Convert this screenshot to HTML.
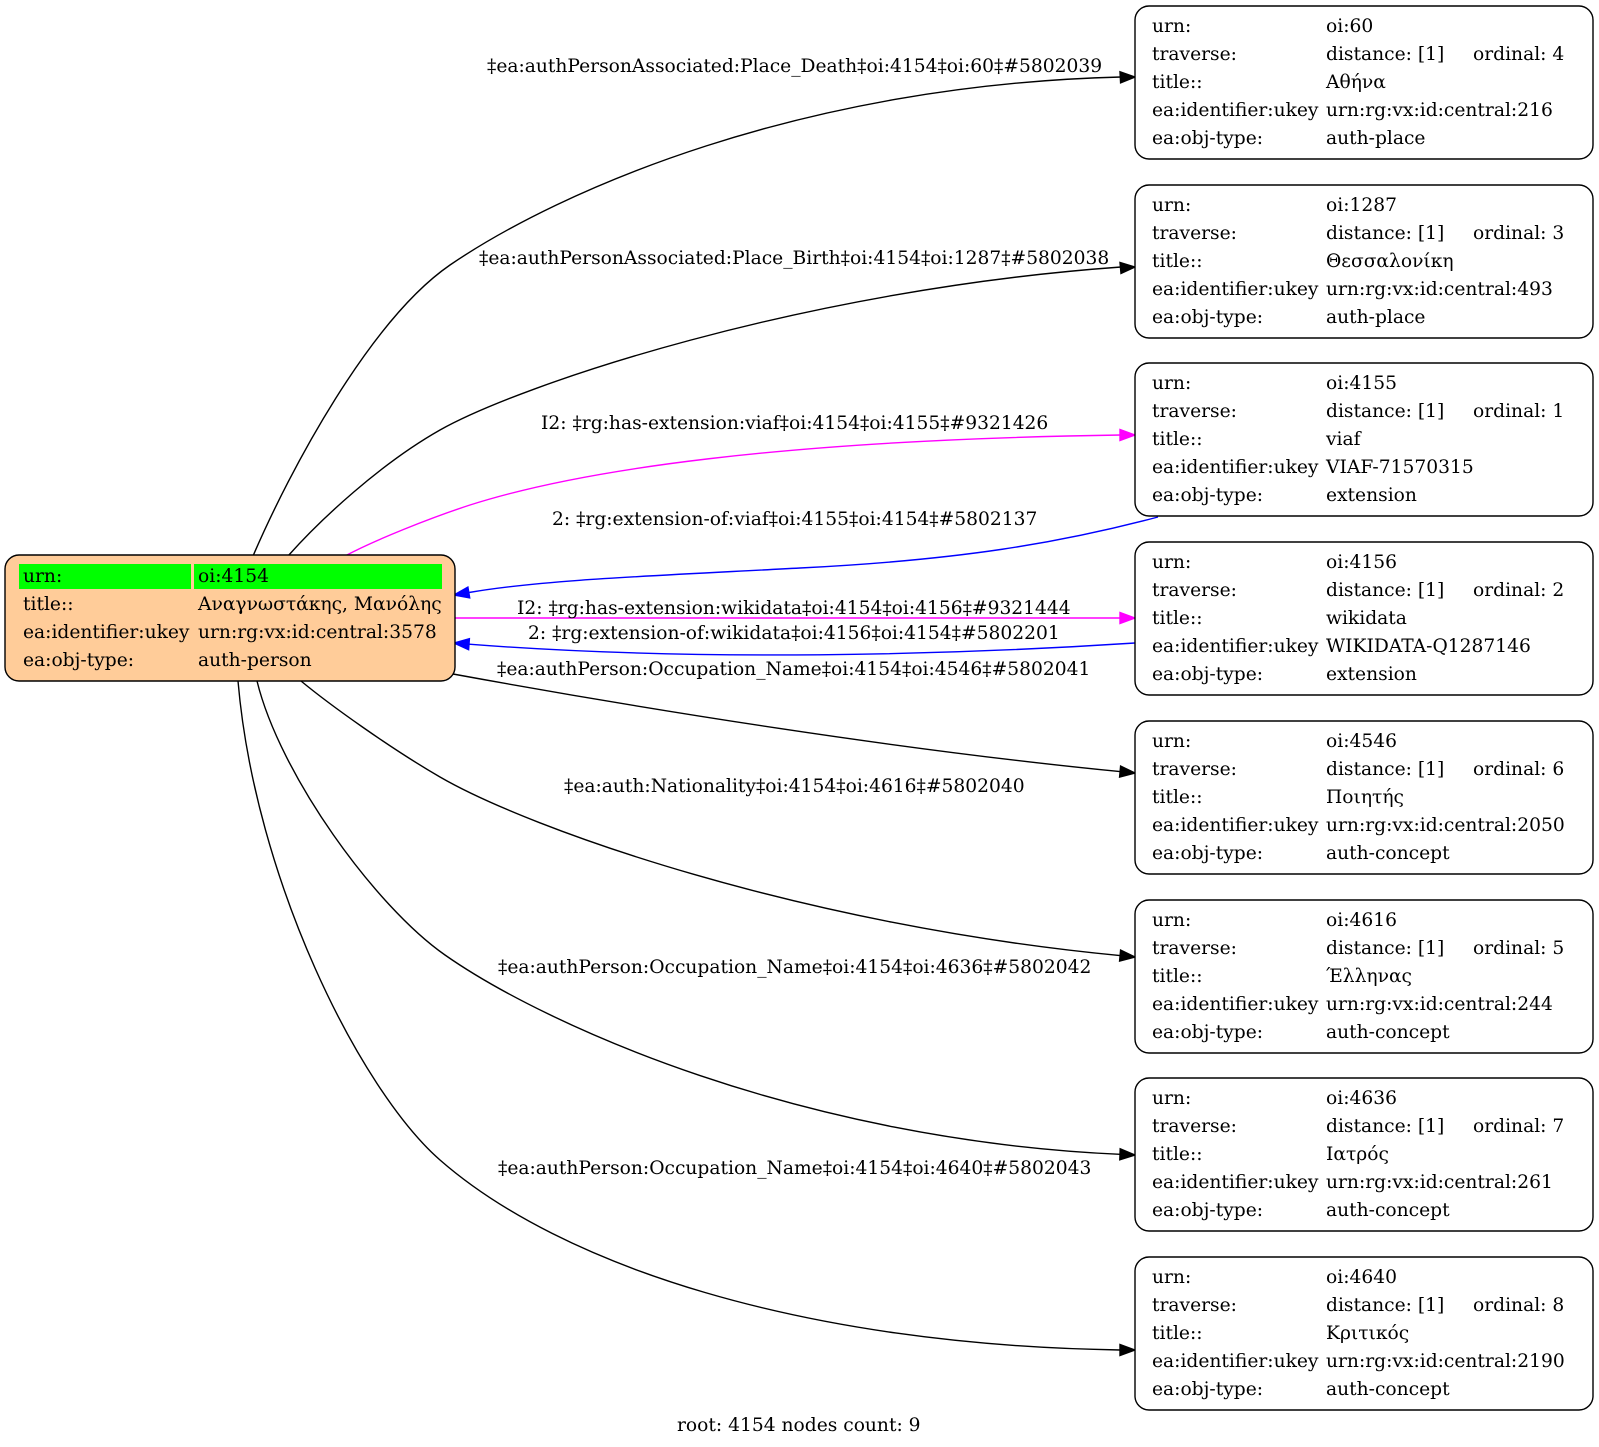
<!DOCTYPE html>
<html>
<head>
<meta charset="utf-8">
<style>
  html, body { margin:0; padding:0; background:#ffffff; }
  svg { display:block; }
  text { font-family: "DejaVu Serif", "Liberation Serif", serif; font-size:18.67px; fill:#000; }
</style>
</head>
<body>
<svg width="1599" height="1447" viewBox="0 0 1599 1447" xmlns="http://www.w3.org/2000/svg">
  <rect x="0" y="0" width="1599" height="1447" fill="#ffffff"/>

  <!-- Edges -->
  <g fill="none" stroke-width="1.4">
    <!-- 1 to oi:60 -->
    <path d="M253,556 C290,470 370,320 450,265 C560,190 800,85 1121,77" stroke="#000"/>
    <!-- 2 to oi:1287 -->
    <path d="M288,556 C320,520 380,464 440,430 C520,385 800,290 1121,267" stroke="#000"/>
    <!-- 3 magenta to oi:4155 -->
    <path d="M345,556 C375,540 430,518 470,505 C580,470 780,440 1121,435" stroke="#ff00ff"/>
    <!-- 4 blue from oi:4155 -->
    <path d="M1158,517 C1060,543 960,560 800,568 C650,576 540,580 469,592.5" stroke="#0000ff"/>
    <!-- 5 magenta to oi:4156 -->
    <path d="M455,618 L1120,618" stroke="#ff00ff"/>
    <!-- 6 blue from oi:4156 -->
    <path d="M1135,643 C950,655 700,662 469,644.2" stroke="#0000ff"/>
    <!-- 7 to oi:4546 -->
    <path d="M453,674 C650,710 900,750 1120.1,771.6" stroke="#000"/>
    <!-- 8 to oi:4616 -->
    <path d="M301,681 C330,705 390,748 440,777 C530,829 800,925 1120.1,955.6" stroke="#000"/>
    <!-- 9 to oi:4636 -->
    <path d="M257,681 C280,775 375,906 445,955 C545,1025 800,1140 1120,1154.3" stroke="#000"/>
    <!-- 10 to oi:4640 -->
    <path d="M238,681 C255,880 360,1090 440,1160 C560,1265 800,1345 1120,1350" stroke="#000"/>
  </g>

  <!-- Arrowheads -->
  <g stroke-width="1.4" stroke-linejoin="miter">
    <polygon points="1135,77 1120,71.8 1120.6,82.8" fill="#000" stroke="#000"/>
    <polygon points="1135,267 1120,262.5 1121,273.5" fill="#000" stroke="#000"/>
    <polygon points="1135,435 1120,429.5 1120,440.5" fill="#ff00ff" stroke="#ff00ff"/>
    <polygon points="454,595 467.9,587.1 469.7,597.9" fill="#0000ff" stroke="#0000ff"/>
    <polygon points="1135,618 1120,612.5 1120,623.5" fill="#ff00ff" stroke="#ff00ff"/>
    <polygon points="454,643 469.4,638.7 468.6,649.7" fill="#0000ff" stroke="#0000ff"/>
    <polygon points="1135,773 1120.6,766.1 1119.6,777.1" fill="#000" stroke="#000"/>
    <polygon points="1135,957 1120.6,950.1 1119.6,961.1" fill="#000" stroke="#000"/>
    <polygon points="1135,1155 1120.2,1148.8 1119.8,1159.8" fill="#000" stroke="#000"/>
    <polygon points="1135,1350 1120,1344.5 1120,1355.5" fill="#000" stroke="#000"/>
  </g>

  <!-- Edge labels -->
  <text x="487" y="72">‡ea:authPersonAssociated:Place_Death‡oi:4154‡oi:60‡#5802039</text>
  <text x="479" y="264">‡ea:authPersonAssociated:Place_Birth‡oi:4154‡oi:1287‡#5802038</text>
  <text x="541" y="429">I2: ‡rg:has-extension:viaf‡oi:4154‡oi:4155‡#9321426</text>
  <text x="552" y="525">2: ‡rg:extension-of:viaf‡oi:4155‡oi:4154‡#5802137</text>
  <text x="517" y="614">I2: ‡rg:has-extension:wikidata‡oi:4154‡oi:4156‡#9321444</text>
  <text x="528" y="639">2: ‡rg:extension-of:wikidata‡oi:4156‡oi:4154‡#5802201</text>
  <text x="497" y="675">‡ea:authPerson:Occupation_Name‡oi:4154‡oi:4546‡#5802041</text>
  <text x="564" y="792">‡ea:auth:Nationality‡oi:4154‡oi:4616‡#5802040</text>
  <text x="498" y="973">‡ea:authPerson:Occupation_Name‡oi:4154‡oi:4636‡#5802042</text>
  <text x="498" y="1174">‡ea:authPerson:Occupation_Name‡oi:4154‡oi:4640‡#5802043</text>

  <!-- Main node -->
  <rect x="5" y="555" width="450" height="126" rx="14" ry="14" fill="#ffcc99" stroke="#000" stroke-width="1.4"/>
  <rect x="19" y="564" width="172" height="25" fill="#00ff00"/>
  <rect x="194" y="564" width="248" height="25" fill="#00ff00"/>
  <text x="23" y="582">urn:</text><text x="198" y="582">oi:4154</text>
  <text x="23" y="610">title::</text><text x="198" y="610">Αναγνωστάκης, Μανόλης</text>
  <text x="23" y="638">ea:identifier:ukey</text><text x="198" y="638">urn:rg:vx:id:central:3578</text>
  <text x="23" y="666">ea:obj-type:</text><text x="198" y="666">auth-person</text>

  <!-- Right nodes -->
  <g transform="translate(0,6)">
    <rect x="1135" y="0" width="458" height="153" rx="14" ry="14" fill="#fff" stroke="#000" stroke-width="1.4"/>
    <text x="1152" y="26">urn:</text><text x="1326" y="26">oi:60</text>
    <text x="1152" y="54">traverse:</text><text x="1326" y="54">distance: [1]</text><text x="1473" y="54">ordinal: 4</text>
    <text x="1152" y="82">title::</text><text x="1326" y="82">Αθήνα</text>
    <text x="1152" y="110">ea:identifier:ukey</text><text x="1326" y="110">urn:rg:vx:id:central:216</text>
    <text x="1152" y="138">ea:obj-type:</text><text x="1326" y="138">auth-place</text>
  </g>
  <g transform="translate(0,185)">
    <rect x="1135" y="0" width="458" height="153" rx="14" ry="14" fill="#fff" stroke="#000" stroke-width="1.4"/>
    <text x="1152" y="26">urn:</text><text x="1326" y="26">oi:1287</text>
    <text x="1152" y="54">traverse:</text><text x="1326" y="54">distance: [1]</text><text x="1473" y="54">ordinal: 3</text>
    <text x="1152" y="82">title::</text><text x="1326" y="82">Θεσσαλονίκη</text>
    <text x="1152" y="110">ea:identifier:ukey</text><text x="1326" y="110">urn:rg:vx:id:central:493</text>
    <text x="1152" y="138">ea:obj-type:</text><text x="1326" y="138">auth-place</text>
  </g>
  <g transform="translate(0,363)">
    <rect x="1135" y="0" width="458" height="153" rx="14" ry="14" fill="#fff" stroke="#000" stroke-width="1.4"/>
    <text x="1152" y="26">urn:</text><text x="1326" y="26">oi:4155</text>
    <text x="1152" y="54">traverse:</text><text x="1326" y="54">distance: [1]</text><text x="1473" y="54">ordinal: 1</text>
    <text x="1152" y="82">title::</text><text x="1326" y="82">viaf</text>
    <text x="1152" y="110">ea:identifier:ukey</text><text x="1326" y="110">VIAF-71570315</text>
    <text x="1152" y="138">ea:obj-type:</text><text x="1326" y="138">extension</text>
  </g>
  <g transform="translate(0,542)">
    <rect x="1135" y="0" width="458" height="153" rx="14" ry="14" fill="#fff" stroke="#000" stroke-width="1.4"/>
    <text x="1152" y="26">urn:</text><text x="1326" y="26">oi:4156</text>
    <text x="1152" y="54">traverse:</text><text x="1326" y="54">distance: [1]</text><text x="1473" y="54">ordinal: 2</text>
    <text x="1152" y="82">title::</text><text x="1326" y="82">wikidata</text>
    <text x="1152" y="110">ea:identifier:ukey</text><text x="1326" y="110">WIKIDATA-Q1287146</text>
    <text x="1152" y="138">ea:obj-type:</text><text x="1326" y="138">extension</text>
  </g>
  <g transform="translate(0,721)">
    <rect x="1135" y="0" width="458" height="153" rx="14" ry="14" fill="#fff" stroke="#000" stroke-width="1.4"/>
    <text x="1152" y="26">urn:</text><text x="1326" y="26">oi:4546</text>
    <text x="1152" y="54">traverse:</text><text x="1326" y="54">distance: [1]</text><text x="1473" y="54">ordinal: 6</text>
    <text x="1152" y="82">title::</text><text x="1326" y="82">Ποιητής</text>
    <text x="1152" y="110">ea:identifier:ukey</text><text x="1326" y="110">urn:rg:vx:id:central:2050</text>
    <text x="1152" y="138">ea:obj-type:</text><text x="1326" y="138">auth-concept</text>
  </g>
  <g transform="translate(0,900)">
    <rect x="1135" y="0" width="458" height="153" rx="14" ry="14" fill="#fff" stroke="#000" stroke-width="1.4"/>
    <text x="1152" y="26">urn:</text><text x="1326" y="26">oi:4616</text>
    <text x="1152" y="54">traverse:</text><text x="1326" y="54">distance: [1]</text><text x="1473" y="54">ordinal: 5</text>
    <text x="1152" y="82">title::</text><text x="1326" y="82">Έλληνας</text>
    <text x="1152" y="110">ea:identifier:ukey</text><text x="1326" y="110">urn:rg:vx:id:central:244</text>
    <text x="1152" y="138">ea:obj-type:</text><text x="1326" y="138">auth-concept</text>
  </g>
  <g transform="translate(0,1078)">
    <rect x="1135" y="0" width="458" height="153" rx="14" ry="14" fill="#fff" stroke="#000" stroke-width="1.4"/>
    <text x="1152" y="26">urn:</text><text x="1326" y="26">oi:4636</text>
    <text x="1152" y="54">traverse:</text><text x="1326" y="54">distance: [1]</text><text x="1473" y="54">ordinal: 7</text>
    <text x="1152" y="82">title::</text><text x="1326" y="82">Ιατρός</text>
    <text x="1152" y="110">ea:identifier:ukey</text><text x="1326" y="110">urn:rg:vx:id:central:261</text>
    <text x="1152" y="138">ea:obj-type:</text><text x="1326" y="138">auth-concept</text>
  </g>
  <g transform="translate(0,1257)">
    <rect x="1135" y="0" width="458" height="153" rx="14" ry="14" fill="#fff" stroke="#000" stroke-width="1.4"/>
    <text x="1152" y="26">urn:</text><text x="1326" y="26">oi:4640</text>
    <text x="1152" y="54">traverse:</text><text x="1326" y="54">distance: [1]</text><text x="1473" y="54">ordinal: 8</text>
    <text x="1152" y="82">title::</text><text x="1326" y="82">Κριτικός</text>
    <text x="1152" y="110">ea:identifier:ukey</text><text x="1326" y="110">urn:rg:vx:id:central:2190</text>
    <text x="1152" y="138">ea:obj-type:</text><text x="1326" y="138">auth-concept</text>
  </g>

  <!-- Footer -->
  <text x="677" y="1431">root: 4154 nodes count: 9</text>
</svg>
</body>
</html>
